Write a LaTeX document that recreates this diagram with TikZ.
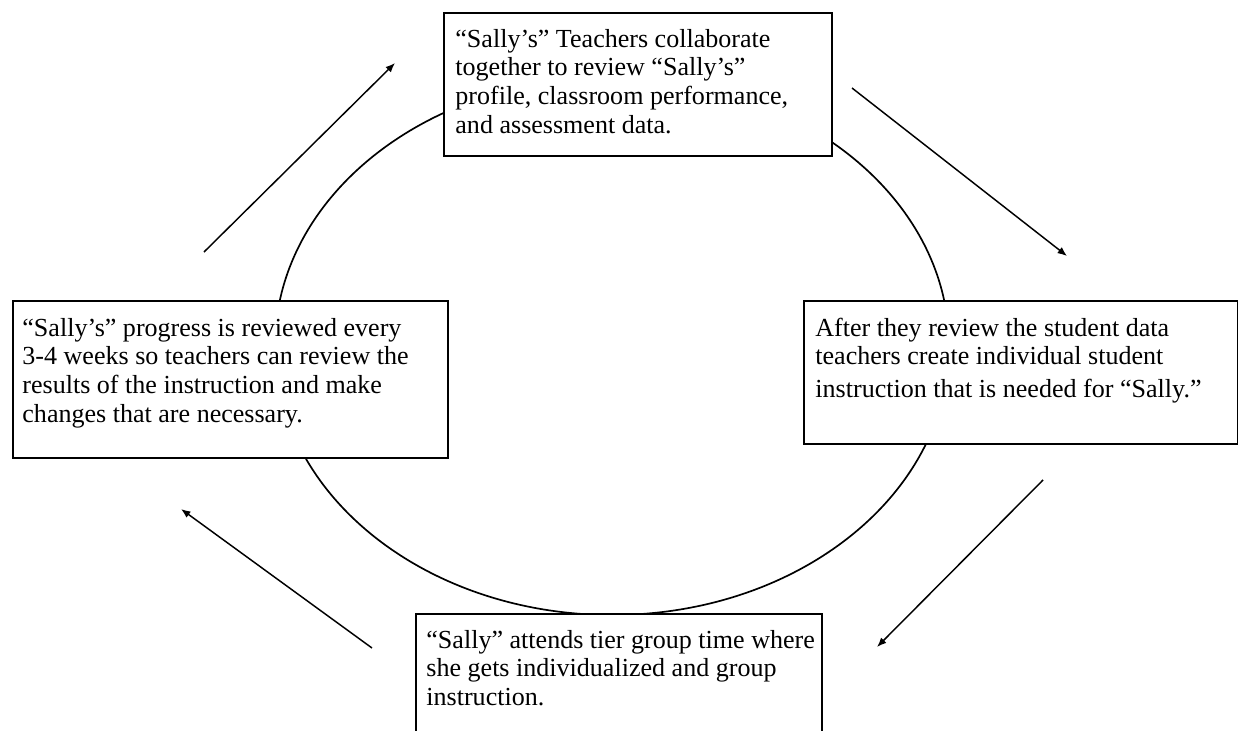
\documentclass[tikz,border=0pt]{standalone}
\usepackage{fontspec}
\setmainfont{Liberation Serif}
\usetikzlibrary{arrows.meta}
\newcommand{\pxu}{0.476pt}

\begin{document}
\begin{tikzpicture}[x=\pxu, y=-\pxu]
		\tikzset{stepbox/.style = {shape=rectangle, draw, line width=1pt, fill=white, anchor=north west, inner sep=0pt}}
		\tikzset{steptext/.style = {anchor=base west, text width=420*\pxu, align=flush left, inner sep=0pt, font=\fontsize{12.4}{13.7}\selectfont}}
		\tikzset{flow/.style = {line width=0.7pt, -{Latex[length=4.5pt, width=3.6pt]}}}

		\useasboundingbox (0,0) rectangle (1238,730);
		\clip (0,0) rectangle (1238,730);

		\draw[line width=0.8pt] (612,346) ellipse [x radius=337, y radius=269];

		\node[stepbox, minimum width=388*\pxu, minimum height=143*\pxu] (review) at (443,12) {};
		\node[stepbox, minimum width=434*\pxu, minimum height=143*\pxu] (plan) at (803,300) {};
		\node[stepbox, minimum width=406*\pxu, minimum height=150*\pxu] (attend) at (415,613) {};
		\node[stepbox, minimum width=435*\pxu, minimum height=157*\pxu] (check) at (12,300) {};

		\node[steptext] (reviewtext) at (455,47) {“Sally’s” Teachers collaborate\\together to review “Sally’s”\\profile, classroom performance,\\and assessment data.};
		\node[steptext] (plantext) at (815,336) {After they review the student data\\teachers create individual student\\[2pt]instruction that is needed for “Sally.”};
		\node[steptext] (attendtext) at (426,648) {“Sally” attends tier group time where\\she gets individualized and group\\instruction.};
		\node[steptext] (checktext) at (22,336) {“Sally’s” progress is reviewed every\\3-4 weeks so teachers can review the\\results of the instruction and make\\changes that are necessary.};

		\coordinate (a1) at (204,252);
		\coordinate (b1) at (395,63);
		\coordinate (a2) at (852,88);
		\coordinate (b2) at (1067,256);
		\coordinate (a3) at (1043,480);
		\coordinate (b3) at (877,647);
		\coordinate (a4) at (372,648);
		\coordinate (b4) at (181,509);

		\draw[flow] (a1) -- (b1);
		\draw[flow] (a2) -- (b2);
		\draw[flow] (a3) -- (b3);
		\draw[flow] (a4) -- (b4);

	\end{tikzpicture}
\end{document}
